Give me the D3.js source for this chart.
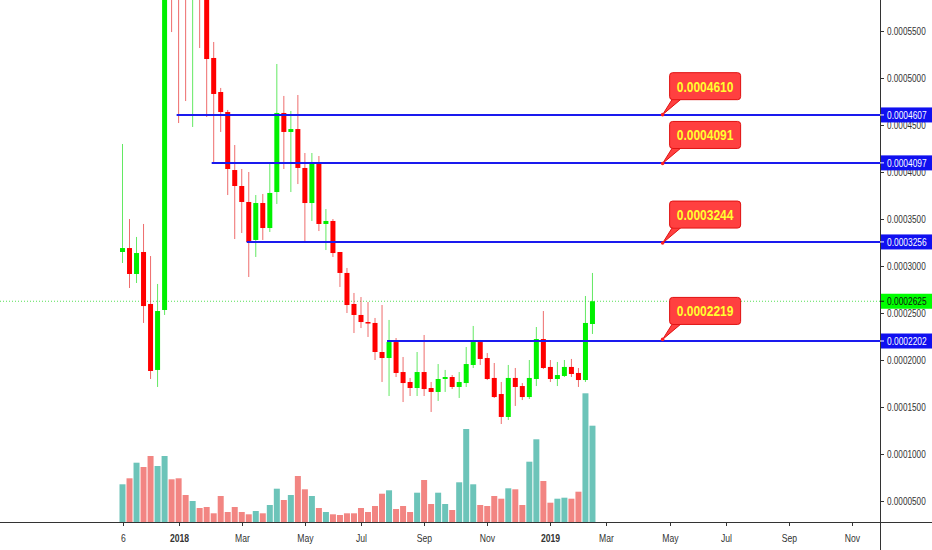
<!DOCTYPE html>
<html><head><meta charset="utf-8">
<script src="https://cdn.jsdelivr.net/npm/d3@7/dist/d3.min.js"></script>
<style>html,body{margin:0;padding:0;background:#fff;}svg{display:block;font-family:"Liberation Sans",Arial,sans-serif;}</style>
</head><body><svg id="c" width="932" height="550"></svg>
<script>
// weekly candles, starting week of 6 Nov 2017 (index 0)
const open  = [0.0003149,0.0003191,0.0002915,0.0003149,0.0002596,0.0001894,0.0002532,0.00064,0.00062,0.00060,0.00059,0.00061,0.00060,0.0005213,0.0004851,0.0004638,0.0004021,0.0003851,0.0003681,0.0003277,0.0003670,0.0003404,0.0003787,0.0004628,0.0004426,0.0004457,0.0004043,0.0003670,0.0004106,0.0003447,0.0003479,0.0003149,0.0002926,0.0002596,0.0002479,0.0002404,0.0002394,0.0002085,0.0002021,0.0002191,0.0001872,0.0001766,0.0001702,0.0001872,0.0001702,0.0001660,0.0001798,0.0001819,0.0001713,0.0001755,0.0001947,0.0002191,0.0002021,0.0001809,0.0001638,0.0001394,0.0001809,0.0001723,0.0001606,0.0001798,0.0002223,0.0001926,0.0001798,0.0001830,0.0001926,0.0001862,0.0001787,0.0002383];
const high  = [0.0004298,0.0003500,0.0003309,0.0003447,0.0003106,0.0002809,0.00068,0.00070,0.00066,0.00064,0.00065,0.00063,0.00062,0.0005383,0.0004894,0.0004660,0.0004287,0.0004032,0.0004000,0.0003755,0.0003766,0.0004096,0.0005149,0.0004809,0.0004649,0.0004819,0.0004202,0.0004202,0.0004170,0.0003606,0.0003500,0.0003149,0.0002979,0.0002713,0.0002670,0.0002617,0.0002447,0.0002585,0.0002426,0.0002234,0.0002032,0.0001809,0.0002085,0.0002266,0.0001766,0.0001957,0.0001894,0.0001840,0.0001872,0.0002138,0.0002362,0.0002213,0.0002074,0.0001968,0.0001766,0.0001947,0.0001915,0.0001755,0.0002000,0.0002351,0.0002521,0.0002000,0.0001979,0.0002000,0.0002011,0.0001915,0.0002681,0.0002926];
const low   = [0.0003032,0.0002766,0.0002819,0.0002394,0.0001798,0.0001713,0.0002479,0.0005489,0.0004521,0.0004755,0.0004479,0.0005319,0.0004585,0.0004096,0.0004426,0.0003755,0.0003287,0.0003351,0.0002883,0.0003096,0.0003277,0.0003362,0.0003660,0.0004032,0.0003787,0.0003872,0.0003255,0.0003479,0.0003372,0.0003170,0.0003096,0.0002777,0.0002500,0.0002287,0.0002340,0.0002245,0.0002000,0.0001766,0.0001617,0.0001819,0.0001553,0.0001617,0.0001617,0.0001617,0.0001447,0.0001564,0.0001660,0.0001691,0.0001596,0.0001713,0.0001915,0.0001947,0.0001787,0.0001596,0.0001319,0.0001362,0.0001511,0.0001574,0.0001585,0.0001723,0.0001904,0.0001766,0.0001723,0.0001819,0.0001819,0.0001713,0.0001766,0.0002277];
const close = [0.0003191,0.0002915,0.0003138,0.0002574,0.0001883,0.0002521,0.00064,0.00062,0.00060,0.00059,0.00061,0.00060,0.0005202,0.0004830,0.0004638,0.0004032,0.0003851,0.0003681,0.0003255,0.0003670,0.0003404,0.0003777,0.0004628,0.0004426,0.0004457,0.0004043,0.0003670,0.0004106,0.0003447,0.0003479,0.0003138,0.0002926,0.0002585,0.0002479,0.0002404,0.0002394,0.0002085,0.0002021,0.0002191,0.0001862,0.0001755,0.0001702,0.0001872,0.0001691,0.0001660,0.0001798,0.0001819,0.0001713,0.0001766,0.0001957,0.0002191,0.0002011,0.0001798,0.0001606,0.0001394,0.0001809,0.0001713,0.0001606,0.0001809,0.0002223,0.0001915,0.0001798,0.0001840,0.0001926,0.0001851,0.0001787,0.0002394,0.0002625];
const volume = [37.7,43.7,59.3,55,66,56,66,42.7,43.7,27,21,14,15,8.7,26,10,15,10,7.7,11,8.7,17,33.3,22,27,46,32.7,26,14,10,7.7,7,8.7,8.7,14,10,16,28.3,31.7,13,16,10,29.3,42,18,29.3,18,12,39.7,93,37.7,17,16,26,23.3,33.7,32.7,17,60.3,82.7,41,19.3,23.3,24.3,23.3,30.3,128.7,96.3];

const xTickIndex  = [0,8,17,26,34,43,52,61,69,78,86,95,104];
const xTickLabels = ["6","2018","Mar","May","Jul","Sep","Nov","2019","Mar","May","Jul","Sep","Nov"];
const xTickBold   = ["2018","2019"];
const yTicks = [0.00005,0.0001,0.00015,0.0002,0.00025,0.0003,0.00035,0.0004,0.00045,0.0005,0.00055];

const levels        = [0.0004607,0.0004097,0.0003256,0.0002202];
const levelStart    = [8,13,18,38];
const calloutValues = [0.0004610,0.0004091,0.0003244,0.0002219];
const calloutLabels = ["0.0004610","0.0004091","0.0003244","0.0002219"];
const calloutIndex  = 77;
const lastPrice = 0.0002625;

const W = 932, H = 550, plotR = 880, plotB = 522;
const svg = d3.select("#c");
const x = d3.scaleLinear().domain([0,104]).range([122.5,852]);
const y = d3.scaleLinear().domain([0,0.00055]).range([548,31]);
const yv = d3.scaleLinear().domain([0,130]).range([plotB,plotB-130]);
const fmt = d3.format(".7f");
const K = 0.8; // horizontal text squeeze

svg.append("defs").append("clipPath").attr("id","pc").append("rect").attr("x",0).attr("y",0).attr("width",plotR).attr("height",plotB);
const g = svg.append("g").attr("clip-path","url(#pc)");

const idx = d3.range(open.length);
// volume
g.selectAll("rect.v").data(idx).join("rect").attr("class","v")
  .attr("x",i=>x(i)-3).attr("width",6)
  .attr("y",i=>yv(volume[i])).attr("height",i=>plotB-yv(volume[i]))
  .attr("fill",i=>close[i]>=open[i]?"#6cc4b9":"#f28582");

// last price dotted line
g.append("line").attr("x1",0).attr("x2",plotR).attr("y1",y(lastPrice)).attr("y2",y(lastPrice))
  .attr("stroke","#55e055").attr("stroke-width",1).attr("stroke-dasharray","1,2");

// wicks
g.selectAll("line.w").data(idx).join("line").attr("class","w")
  .attr("x1",i=>x(i)).attr("x2",i=>x(i)).attr("y1",i=>y(high[i])).attr("y2",i=>y(low[i]))
  .attr("stroke",i=>close[i]>=open[i]?"#22e022":"#e83030").attr("stroke-width",1).attr("opacity",0.7);
// bodies
g.selectAll("rect.b").data(idx).join("rect").attr("class","b")
  .attr("x",i=>x(i)-2.5).attr("width",5)
  .attr("y",i=>y(Math.max(open[i],close[i])))
  .attr("height",i=>Math.max(1.5,Math.abs(y(open[i])-y(close[i]))))
  .attr("fill",i=>close[i]>=open[i]?"#00f000":"#ff0000");

// level lines
levels.forEach((v,k)=>{
  g.append("line").attr("x1",x(levelStart[k])-2).attr("x2",plotR).attr("y1",y(v)).attr("y2",y(v))
    .attr("stroke","#1a1aee").attr("stroke-width",2);
});

// callouts
calloutValues.forEach((v,k)=>{
  const ax = x(calloutIndex), ay = y(v);
  const bx = ax+7, bw = 71, bh = 27, by = ay-42;
  const cg = svg.append("g");
  cg.append("path").attr("d",`M${ax},${ay} L${bx+3},${by+bh-1} L${bx+12},${by+bh-1} Z`)
    .attr("fill","#ff4040").attr("stroke","#e01010").attr("stroke-width",1);
  cg.append("rect").attr("x",bx).attr("y",by).attr("width",bw).attr("height",bh).attr("rx",3)
    .attr("fill","#ff4040").attr("stroke","#e01010").attr("stroke-width",1);
  cg.append("path").attr("d",`M${bx+3.5},${by+bh-1.5} L${bx+11.5},${by+bh-1.5}`).attr("stroke","#ff4040").attr("stroke-width",2);
  cg.append("circle").attr("cx",ax).attr("cy",ay).attr("r",1.8).attr("fill","#ff2020");
  cg.append("text").attr("transform",`translate(${bx+bw/2},${by+bh/2+5.5}) scale(${K},1)`)
    .attr("text-anchor","middle").attr("font-size",15).attr("font-weight","bold").attr("fill","#ffff30")
    .text(calloutLabels[k]);
});

// axes lines
svg.append("line").attr("x1",0).attr("x2",W).attr("y1",plotB+0.5).attr("y2",plotB+0.5).attr("stroke","#333");
svg.append("line").attr("x1",plotR+0.5).attr("x2",plotR+0.5).attr("y1",0).attr("y2",H).attr("stroke","#333");

// x ticks
xTickIndex.forEach((t,k)=>{
  const px = Math.round(x(t))+0.5;
  svg.append("line").attr("x1",px).attr("x2",px).attr("y1",plotB).attr("y2",plotB+4).attr("stroke","#333");
  svg.append("text").attr("transform",`translate(${px},${541.5}) scale(${K+0.02},1)`).attr("text-anchor","middle")
    .attr("font-size",10.5).attr("fill","#333")
    .attr("font-weight",xTickBold.includes(xTickLabels[k])?"bold":"normal").text(xTickLabels[k]);
});

// y ticks right
yTicks.forEach(v=>{
  const py = Math.round(y(v))+0.5;
  svg.append("line").attr("x1",plotR).attr("x2",plotR+4).attr("y1",py).attr("y2",py).attr("stroke","#333");
  svg.append("text").attr("transform",`translate(887,${py+3.6}) scale(${K+0.02},1)`)
    .attr("font-size",10).attr("fill","#333").text(fmt(v));
});

// right value boxes
function valBox(v,bg,fg){
  const py = y(v);
  svg.append("rect").attr("x",plotR+1).attr("y",py-7.5).attr("width",W-plotR-1).attr("height",15).attr("fill",bg);
  svg.append("line").attr("x1",plotR).attr("x2",plotR+4).attr("y1",py).attr("y2",py).attr("stroke",fg);
  svg.append("text").attr("transform",`translate(887,${py+3.8}) scale(${K},1)`)
    .attr("font-size",10.5).attr("fill",fg).text(fmt(v));
}
levels.forEach(v=>valBox(v,"#1010f0","#fff"));
valBox(lastPrice,"#00ff00","#111");
</script></body></html>
